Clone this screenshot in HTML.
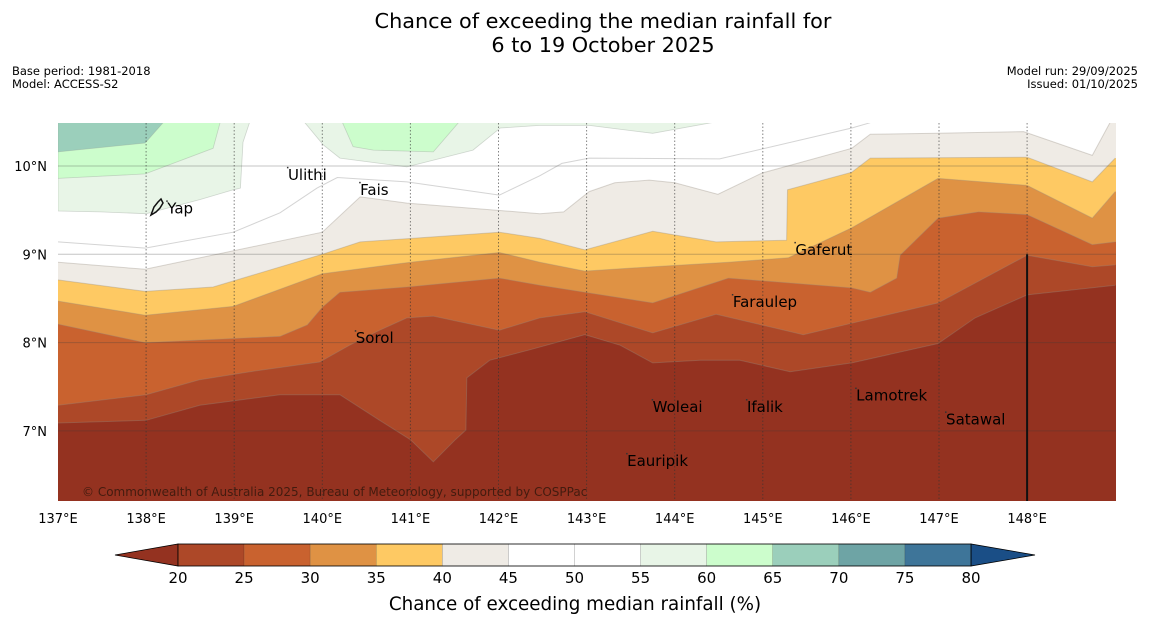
<!DOCTYPE html>
<html><head><meta charset="utf-8">
<style>
html,body{margin:0;padding:0;background:#fff;}
svg{display:block;font-family:"DejaVu Sans","Liberation Sans",sans-serif;}
</style></head>
<body>
<svg id="chart" width="1150" height="644" viewBox="0 0 1150 644" xmlns="http://www.w3.org/2000/svg">
<rect x="0" y="0" width="1150" height="644" fill="#ffffff"/>
<text x="603" y="28" font-size="20.8" text-anchor="middle" fill="#000">Chance of exceeding the median rainfall for</text>
<text x="603" y="52" font-size="20.8" text-anchor="middle" fill="#000">6 to 19 October 2025</text>
<text x="12" y="75" font-size="11.5" fill="#000">Base period: 1981-2018</text>
<text x="12" y="88" font-size="11.5" fill="#000">Model: ACCESS-S2</text>
<text x="1138" y="75" font-size="11.5" text-anchor="end" fill="#000">Model run: 29/09/2025</text>
<text x="1138" y="88" font-size="11.5" text-anchor="end" fill="#000">Issued: 01/10/2025</text>
<defs><clipPath id="mapclip"><rect x="58" y="123" width="1058" height="378"/></clipPath></defs>
<g id="map" clip-path="url(#mapclip)"></g>
<g id="overlay"></g>
<g id="axes"></g>
<g id="cbar"></g>
<text x="575" y="610" font-size="18.3" text-anchor="middle" fill="#000">Chance of exceeding median rainfall (%)</text>
</svg>
<script>
// ---- data ----
const levels = [20,25,30,35,40,45,50,55,60,65,70,75,80];
const bandColors = ["#ad4828","#c9622f","#df9244","#fec963","#efebe5","#ffffff","#ffffff","#e8f5e7","#ccfdcc","#9bcfbb","#6ea4a5","#3e7599"];
const underColor = "#943220";
const overColor = "#1a4e86";

const lon20=[137,138,138.61,139.52,140.2,140.65,141,141.26,141.51,141.63,141.64,141.9,142.36,142.98,143.38,143.75,144.29,144.74,145.31,146.01,146.99,147.41,148,149];
const lat20=[7.09,7.12,7.29,7.41,7.41,7.12,6.9,6.65,6.9,7.01,7.6,7.8,7.92,8.09,7.97,7.77,7.8,7.8,7.67,7.77,7.99,8.28,8.54,8.65];
const lon25=[137,138,138.61,139.18,139.97,140.31,140.65,140.96,141.26,142.01,142.47,142.98,143.75,144.47,145.46,146.01,146.99,148.0,148.74,149];
const lat25=[7.29,7.41,7.58,7.67,7.78,7.97,8.14,8.28,8.30,8.14,8.28,8.35,8.11,8.32,8.09,8.22,8.45,8.99,8.86,8.88];
const lon30=[137,137.99,139.52,139.83,140.0,140.2,140.96,142.01,142.47,142.98,143.75,144.61,146.01,146.22,146.52,146.56,146.99,147.45,148.0,148.74,149];
const lat30=[8.21,8.0,8.07,8.2,8.4,8.57,8.63,8.73,8.65,8.57,8.45,8.73,8.62,8.57,8.73,8.99,9.41,9.48,9.45,9.11,9.14];
const lon35=[137,137.99,138.99,140.0,141.0,142.01,142.47,142.98,143.75,144.61,145.29,146.01,146.99,148,148.74,149];
const lat35=[8.47,8.31,8.41,8.78,8.91,9.02,8.91,8.81,8.86,8.91,8.96,9.30,9.86,9.78,9.41,9.71];
const lon40=[137,137.99,138.76,140.0,140.43,142.01,142.47,142.98,143.75,144.47,145.27,145.28,146.01,146.22,148.0,148.74,149];
const lat40=[8.71,8.58,8.63,9.0,9.14,9.25,9.18,9.05,9.26,9.14,9.16,9.73,9.93,10.09,10.1,9.82,10.09];
const lon45=[137,137.99,140.0,140.43,140.96,142.47,142.74,143.03,143.32,143.71,144.0,144.49,144.99,146.01,146.22,146.99,147.96,148.74,149];
const lat45=[8.91,8.83,9.25,9.65,9.58,9.46,9.48,9.71,9.81,9.84,9.81,9.68,9.92,10.20,10.36,10.37,10.39,10.12,10.6];

const lonLeft55=[137,139.21,139.1,139.07,138.99,138.61,138.0,137.48,137];
const latLeft55=[10.6,10.6,10.27,9.75,9.73,9.62,9.46,9.48,9.49];
const lonLeft60=[137,138.87,138.76,137.99,137];
const latLeft60=[10.6,10.6,10.2,9.91,9.86];
const lonLeft65=[137,138.29,137.99,137];
const latLeft65=[10.6,10.6,10.26,10.16];
const lonTop55=[139.71,140.01,140.2,140.96,141.71,142.02,142.47,143.03,143.75,145.03];
const latTop55=[10.6,10.24,10.09,9.99,10.18,10.43,10.46,10.46,10.37,10.6];
const lonTop60=[140.18,140.35,140.58,141.26,141.64];
const latTop60=[10.6,10.22,10.18,10.16,10.6];
const lon50=[137,137.99,138.99,139.52,139.94,140.17,140.96,142.01,142.47,142.72,143.03,144.51,146.01,146.22];
const lat50=[9.14,9.07,9.25,9.47,9.75,9.87,9.82,9.67,9.89,10.03,10.09,10.08,10.43,10.49];

const placeNames=["Ulithi","Fais","Yap","Sorol","Gaferut","Faraulep","Woleai","Ifalik","Lamotrek","Satawal","Eauripik"];
const placeLon=[139.61,140.43,138.24,140.38,145.37,144.66,143.75,144.82,146.06,147.08,143.46];
const placeLat=[9.9,9.73,9.52,8.05,9.05,8.46,7.27,7.27,7.4,7.13,6.66];

const lonTicks=[137,138,139,140,141,142,143,144,145,146,147,148];
const latTicks=[10,9,8,7];

// ---- scales ----
const X=lon=>58+(lon-137)*88.1;
const Y=lat=>166-(lat-10)*88.3;
const NS="http://www.w3.org/2000/svg";
const map=document.getElementById('map');
const overlay=document.getElementById('overlay');
const axes=document.getElementById('axes');
const cbar=document.getElementById('cbar');
function mk(tag,attrs,parent){const e=document.createElementNS(NS,tag);for(const k in attrs)e.setAttribute(k,attrs[k]);parent.appendChild(e);return e;}

let base=mk('rect',{x:58,y:123,width:1058,height:378,fill:underColor},map);



const curves=[[lon20,lat20,0],[lon25,lat25,1],[lon30,lat30,2],[lon35,lat35,3],[lon40,lat40,4],[lon45,lat45,5]];
curves.forEach(([lo,la,ci])=>{
  let pts=lo.map((v,i)=>X(v).toFixed(1)+','+Y(la[i]).toFixed(1));
  pts.push(X(149.5)+','+Y(la[la.length-1]).toFixed(1));
  pts.push(X(149.5)+','+Y(11));
  pts.push(X(136.5)+','+Y(11));
  pts.push(X(136.5)+','+Y(la[0]).toFixed(1));
  const p=mk('polygon',{points:pts.join(' '),fill:bandColors[ci]},map);
  
  
  const l=mk('polyline',{points:lo.map((v,i)=>X(v).toFixed(1)+','+Y(la[i]).toFixed(1)).join(' '),fill:'none',stroke:'rgba(150,140,130,0.35)','stroke-width':1},map);
  
  
});
const patches=[[lonLeft55,latLeft55,7,'patch-left-55'],[lonLeft60,latLeft60,8,'patch-left-60'],[lonLeft65,latLeft65,9,'patch-left-65'],[lonTop55,latTop55,7,'patch-top-55'],[lonTop60,latTop60,8,'patch-top-60']];
patches.forEach(([lo,la,ci,nm])=>{
  const p=mk('polygon',{points:lo.map((v,i)=>X(v).toFixed(1)+','+Y(la[i]).toFixed(1)).join(' '),fill:bandColors[ci],stroke:'rgba(150,160,150,0.4)','stroke-width':0.8},map);
  
  
});
const c50=mk('polyline',{points:lon50.map((v,i)=>X(v).toFixed(1)+','+Y(lat50[i]).toFixed(1)).join(' '),fill:'none',stroke:'rgba(170,170,170,0.5)','stroke-width':1},map);



latTicks.forEach(t=>{
  const g=mk('line',{x1:58,x2:1116,y1:Y(t),y2:Y(t),stroke:'rgba(60,60,60,0.3)','stroke-width':1},overlay);
  
  
  const tx=mk('text',{x:47,y:Y(t)+5,'font-size':13,'text-anchor':'end',fill:'#000'},axes);
  tx.textContent=t+'°N';
  
  
});
lonTicks.forEach(t=>{
  if(t>137){
    const g=mk('line',{x1:X(t),x2:X(t),y1:123,y2:501,stroke:'rgba(50,50,50,0.6)','stroke-width':1,'stroke-dasharray':'1.5,2'},overlay);
    
    
  }
  const tx=mk('text',{x:X(t),y:523,'font-size':13,'text-anchor':'middle',fill:'#000'},axes);
  tx.textContent=t+'°E';
  
  
});
const bl=mk('line',{x1:X(148),x2:X(148),y1:Y(9),y2:501,stroke:'#111','stroke-width':2},overlay);


const yi=mk('path',{d:'M151,215 L154,207 L158,202 L161,199 L163,203 L160,208 L156,212 Z',fill:'none',stroke:'#111','stroke-width':1.5},overlay);


placeNames.forEach((n,i)=>{
  const d=mk('rect',{x:X(placeLon[i])-1,y:Y(placeLat[i])-8,width:1.5,height:1.5,fill:'#333'},overlay);
  
  
  const t=mk('text',{x:X(placeLon[i]),y:Y(placeLat[i])+5,'font-size':15,fill:'#000'},overlay);
  t.textContent=n;
  
  
});
const cp=mk('text',{x:82,y:496,'font-size':12,fill:'rgba(40,20,10,0.75)'},overlay);
cp.textContent='© Commonwealth of Australia 2025, Bureau of Meteorology, supported by COSPPac';



const cx=v=>178+(v-20)*(793/60);
const cy0=544, cy1=566;
const lt=mk('polygon',{points:`115,555 ${cx(20)},${cy0} ${cx(20)},${cy1}`,fill:underColor,stroke:'#000','stroke-width':0.8},cbar);


const rt=mk('polygon',{points:`1035,555 ${cx(80)},${cy0} ${cx(80)},${cy1}`,fill:overColor,stroke:'#000','stroke-width':0.8},cbar);


bandColors.forEach((c,i)=>{
  const r=mk('rect',{x:cx(levels[i]),y:cy0,width:cx(levels[i+1])-cx(levels[i]),height:cy1-cy0,fill:c,stroke:'rgba(0,0,0,0.25)','stroke-width':0.5},cbar);
  
  
});
const fr=mk('rect',{x:cx(20),y:cy0,width:cx(80)-cx(20),height:cy1-cy0,fill:'none',stroke:'#000','stroke-width':0.8},cbar);


levels.forEach(v=>{
  const t=mk('text',{x:cx(v),y:583,'font-size':15,'text-anchor':'middle',fill:'#000'},cbar);
  t.textContent=v;
  
  
});
</script>
</body></html>
